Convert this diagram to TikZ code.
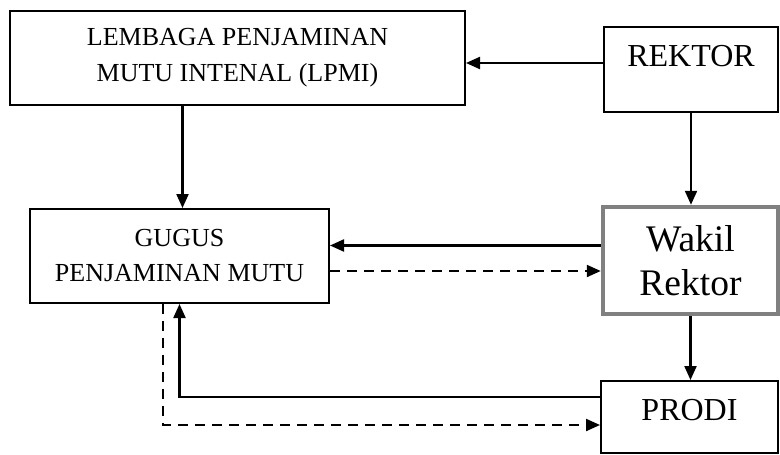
\documentclass[tikz,border=0pt]{standalone}
\usepackage{fontspec}
\setmainfont{Liberation Serif}
\usetikzlibrary{arrows.meta}

\begin{document}
\begin{tikzpicture}[x=1pt, y=-1pt,
		box/.style={draw, line width=2pt, align=center, inner sep=0pt},
		arr/.style={line width=2.2pt, -{Triangle[length=14pt,width=12pt]}},
		dsh/.style={dash pattern=on 10pt off 7pt}]
			\useasboundingbox (0,0) rectangle (780,455);
			\node[box, minimum width=455pt, minimum height=94pt, font=\fontsize{26}{36}\selectfont] (lpmi) at (237.5,58) {LEMBAGA PENJAMINAN\\MUTU INTENAL (LPMI)};
			\node[box, minimum width=174pt, minimum height=85pt, font=\fontsize{32}{38}\selectfont, text height=21pt, text depth=28pt] (rektor) at (691,69.5) {REKTOR};
			\node[box, minimum width=299pt, minimum height=94pt, font=\fontsize{26}{35}\selectfont] (gugus) at (179.5,256) {GUGUS\\PENJAMINAN MUTU};
			\node[box, draw=gray, line width=4.5pt, minimum width=175pt, minimum height=107pt, font=\fontsize{37.5}{44}\selectfont] (wakil) at (690.5,260.5) {Wakil\\Rektor};
			\node[box, minimum width=177pt, minimum height=72pt, font=\fontsize{32}{38}\selectfont, text height=21pt, text depth=15pt] (prodi) at (689.5,417) {PRODI};
			% helper points on the box sides
			\coordinate (r1) at ([yshift=6.5pt]rektor.west);
			\coordinate (l1) at ([xshift=-55pt]lpmi.south);
			\coordinate (w1) at ([yshift=15pt]wakil.west);
			\coordinate (g1) at ([yshift=-15pt]gugus.east);
			\coordinate (p1) at ([yshift=20pt]prodi.west);
			\coordinate (g2) at ([xshift=-16.5pt]gugus.south);
			\coordinate (p2) at ([yshift=-8pt]prodi.west);
			\draw[arr] (r1) -- (r1 -| lpmi.east);
			\draw[arr] (l1) -- (l1 |- gugus.north);
			\draw[arr] (rektor.south) -- (rektor.south |- wakil.north);
			\draw[arr] (w1) -- (w1 -| gugus.east);
			\draw[arr, dsh] (g1) -- (g1 -| wakil.west);
			\draw[arr] (wakil.south) -- (wakil.south |- prodi.north);
			\draw[arr] (p1) -| (gugus.south);
			\draw[arr, dsh] (g2) |- (p2);
		\end{tikzpicture}
\end{document}
